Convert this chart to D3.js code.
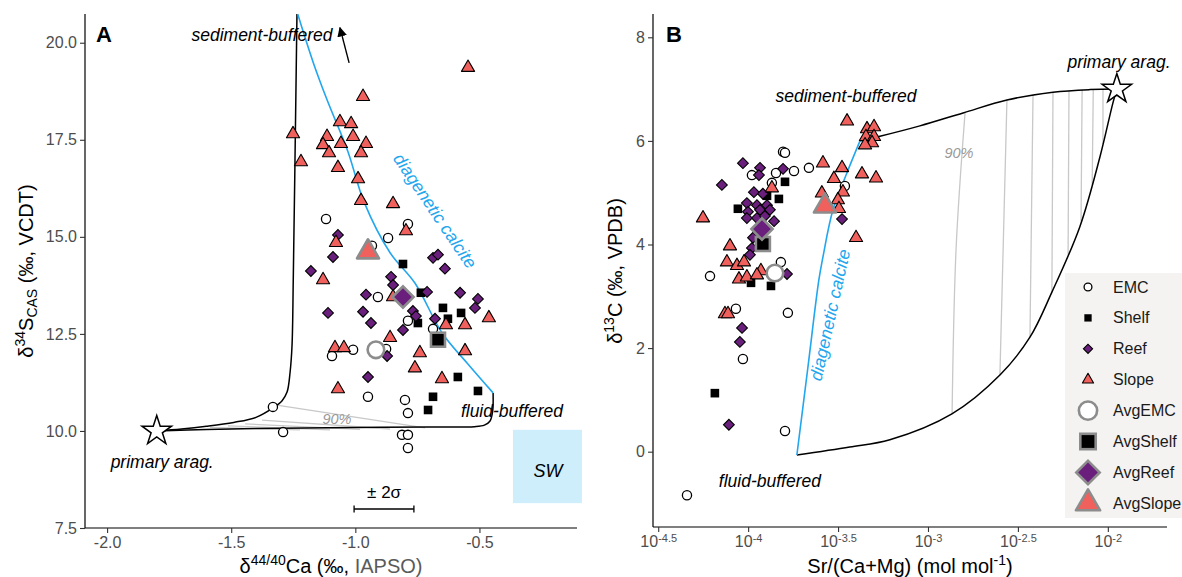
<!DOCTYPE html>
<html><head><meta charset="utf-8">
<script src="https://cdn.jsdelivr.net/npm/d3@7"></script>
<style>
body{margin:0;background:#fff;}
svg{display:block;font-family:"Liberation Sans",Arial,Helvetica,sans-serif;}
</style></head><body>
<svg id="chart" width="1182" height="577"></svg>
<script>
// ===== Panel A data: [δ44/40Ca (‰, IAPSO), δ34S_CAS (‰, VCDT)]
const aEMC = [[-1.332,10.62],[-1.291,9.97],[-1.118,15.46],[-0.788,15.33],[-0.868,14.97],[-0.933,14.77],[-0.909,13.45],[-0.788,12.84],[-0.687,12.63],[-1.094,11.93],[-1.009,12.09],[-0.876,12.11],[-0.949,10.88],[-0.800,10.80],[-0.788,10.46],[-0.812,9.90],[-0.788,9.90],[-0.788,9.56]];
const aShelf = [[-0.808,14.30],[-0.736,13.56],[-0.647,13.17],[-0.627,12.89],[-0.574,13.04],[-0.748,12.78],[-0.587,11.39],[-0.506,11.03],[-0.687,10.88],[-0.707,10.54]];
const aReef = [[-1.070,15.05],[-1.090,14.48],[-1.179,14.12],[-0.687,14.46],[-0.667,14.54],[-0.639,14.18],[-0.856,13.97],[-0.848,13.76],[-0.957,13.51],[-0.711,13.58],[-0.578,13.56],[-0.506,13.40],[-0.518,13.17],[-1.110,13.04],[-0.969,13.07],[-0.937,12.78],[-0.768,13.09],[-0.756,12.96],[-0.808,12.60],[-0.679,12.89],[-0.872,11.93],[-0.949,11.39]];
const aSlope = [[-1.251,17.65],[-1.219,16.93],[-0.546,19.36],[-0.969,18.61],[-1.062,17.96],[-1.017,17.91],[-1.114,17.58],[-1.009,17.58],[-1.130,17.37],[-1.058,17.40],[-0.957,17.40],[-1.106,17.16],[-0.977,17.16],[-1.070,16.78],[-0.989,16.49],[-0.977,15.93],[-0.848,15.85],[-0.796,15.15],[-1.078,14.85],[-1.130,13.89],[-0.848,13.45],[-1.082,12.14],[-1.046,12.14],[-0.860,12.40],[-0.740,12.01],[-0.760,11.62],[-0.635,12.73],[-0.558,12.73],[-0.462,12.91],[-0.558,12.06],[-0.651,11.34],[-1.070,11.08]];
const aAvgEMC = [[-0.917,12.09]];
const aAvgShelf = [[-0.667,12.35]];
const aAvgReef = [[-0.808,13.45]];
const aAvgSlope = [[-0.949,14.61]];
// model curves, panel A
const aPrimary = [[-1.80,10.0]];
const aSedCurve = [[-1.80,10.0],[-1.70,10.05],[-1.60,10.12],[-1.49,10.22],[-1.40,10.35],[-1.33,10.60],[-1.295,10.78],[-1.275,11.0],[-1.263,11.5],[-1.255,12.2],[-1.250,13.9],[-1.243,17.0],[-1.235,20.8]];
const aFluidCurve = [[-1.80,10.0],[-1.6,10.04],[-1.3,10.07],[-1.0,10.09],[-0.7,10.10],[-0.52,10.11],[-0.48,10.15],[-0.458,10.25],[-0.447,10.5],[-0.445,10.98]];
const aCalcite = [[-1.235,20.8],[-1.17,19.5],[-1.114,18.53],[-1.03,17.2],[-0.965,15.9],[-0.86,14.59],[-0.76,13.81],[-0.651,12.53],[-0.55,11.75],[-0.445,10.98]];
const aIsoLines = [[[-1.323,10.67],[-0.719,10.08]],[[-1.376,10.28],[-0.860,10.05]],[[-1.444,10.18],[-0.981,10.04]],[[-1.513,10.13],[-1.102,10.03]],[[-1.585,10.09],[-1.223,10.03]]];
const aSW = [[-0.365,8.14],[-0.087,10.03]];
const aErr = [-1.005,-0.764,7.99];
const aXTicks = [-2.0,-1.5,-1.0,-0.5];
const aYTicks = [7.5,10.0,12.5,15.0,17.5,20.0];

// ===== Panel B data: [log10 Sr/(Ca+Mg) (mol/mol), δ13C (‰, VPDB)]
const bEMC = [[-3.806,5.79],[-3.795,5.77],[-3.979,5.34],[-3.845,5.38],[-3.745,5.42],[-3.662,5.48],[-3.868,5.19],[-3.462,5.13],[-3.818,3.66],[-4.212,3.39],[-4.068,2.76],[-3.779,2.68],[-4.029,1.79],[-3.795,0.40],[-4.340,-0.84]];
const bShelf = [[-3.795,5.21],[-3.895,4.94],[-3.829,4.88],[-4.057,4.69],[-3.984,3.26],[-3.873,3.20],[-4.185,1.13]];
const bReef = [[-4.029,5.57],[-3.934,5.48],[-3.806,5.46],[-3.940,5.34],[-4.146,5.15],[-3.968,5.01],[-3.918,4.98],[-4.007,4.80],[-3.951,4.76],[-3.895,4.76],[-4.001,4.63],[-3.934,4.67],[-3.879,4.67],[-4.007,4.51],[-3.951,4.51],[-3.907,4.55],[-3.856,4.45],[-3.973,4.13],[-3.979,3.93],[-3.990,3.80],[-3.784,3.43],[-3.478,4.49],[-4.034,2.39],[-4.046,2.12],[-4.107,0.52]];
const bSlope = [[-3.450,6.38],[-3.339,6.23],[-3.300,6.27],[-3.345,6.08],[-3.300,6.08],[-3.311,5.96],[-3.350,5.92],[-3.584,5.57],[-3.478,5.48],[-3.523,5.27],[-3.367,5.36],[-3.289,5.28],[-3.868,5.09],[-3.473,5.01],[-3.590,4.99],[-3.501,4.86],[-3.495,4.69],[-3.400,4.13],[-4.251,4.51],[-4.101,3.97],[-4.118,3.66],[-4.062,3.59],[-4.023,3.66],[-3.929,3.49],[-4.051,3.33],[-4.007,3.37],[-3.951,3.41],[-4.129,2.66],[-4.112,2.66]];
const bAvgEMC = [[-3.851,3.45]];
const bAvgShelf = [[-3.918,4.01]];
const bAvgReef = [[-3.923,4.30]];
const bAvgSlope = [[-3.573,4.74]];
// model curves, panel B
const bPrimary = [[-1.95,7.0]];
const bSedCurve = [[-3.378,6.00],[-3.267,6.09],[-3.045,6.29],[-2.805,6.54],[-2.561,6.79],[-2.305,6.94],[-2.10,6.99],[-1.95,7.0]];
const bFluidCurve = [[-3.729,-0.064],[-3.435,0.09],[-3.212,0.23],[-2.867,0.73],[-2.600,1.48],[-2.433,2.21],[-2.311,3.08],[-2.156,4.34],[-2.044,5.69],[-1.972,6.73],[-1.95,7.0]];
const bCalcite = [[-3.729,-0.064],[-3.668,1.62],[-3.607,3.31],[-3.584,3.76],[-3.529,4.66],[-3.451,5.38],[-3.378,6.00]];
const bIsoLines = [[[-2.794,6.54],[-2.844,3.90],[-2.866,0.73]],[[-2.561,6.79],[-2.600,1.48]],[[-2.416,6.89],[-2.433,2.21]],[[-2.305,6.94],[-2.311,3.08]],[[-2.216,6.98],[-2.221,3.80]],[[-2.143,6.99],[-2.149,4.45]],[[-2.081,7.0],[-2.087,5.15]],[[-2.027,7.0],[-2.027,5.94]]];
const bXTickExp = [-4.5,-4,-3.5,-3,-2.5,-2];
const bYTicks = [0,2,4,6,8];

const groups = ["EMC","Shelf","Reef","Slope","AvgEMC","AvgShelf","AvgReef","AvgSlope"];

// ===== styling
const C = {reef:"#6a1f7d", slope:"#f0605d", avg:"#8c8c8c", blue:"#22a6ee", iso:"#c8c8c8", tick:"#4d4d4d"};
const svg = d3.select("#chart");

const ax = d3.scaleLinear().domain([-2.089,-0.107]).range([85,577]);
const ay = d3.scaleLinear().domain([7.5,20.74]).range([528,14]);
const bx = d3.scaleLog().domain([Math.pow(10,-4.529),Math.pow(10,-1.671)]).range([653,1167]);
const by = d3.scaleLinear().domain([-1.454,8.45]).range([527,14]);
const bX = v => bx(Math.pow(10,v));

const defs = svg.append("defs");
defs.append("clipPath").attr("id","clipA").append("rect").attr("x",85).attr("y",14).attr("width",500).attr("height",514);
defs.append("clipPath").attr("id","clipB").append("rect").attr("x",653).attr("y",14).attr("width",514).attr("height",513);
defs.append("marker").attr("id","arr").attr("viewBox","0 0 10 10").attr("refX",9).attr("refY",5)
  .attr("markerWidth",7).attr("markerHeight",7).attr("orient","auto")
  .append("path").attr("d","M0,0L10,5L0,10z").attr("fill","#000");

function mark(g, type, x, y, k) {
  k = k || 1;
  const big = type.startsWith("Avg");
  const t = big ? type.slice(3) : type;
  const stroke = big ? C.avg : "#000";
  const sw = big ? 2.6 : 1.1;
  if (t === "EMC") {
    g.append("circle").attr("cx",x).attr("cy",y).attr("r",(big?8.3:4.6)*k)
      .attr("fill","#fff").attr("stroke",stroke).attr("stroke-width",big?2.6:1.3);
  } else if (t === "Shelf") {
    const s = (big?14:8.6)*k;
    g.append("rect").attr("x",x-s/2).attr("y",y-s/2).attr("width",s).attr("height",s)
      .attr("fill","#000").attr("stroke",big?stroke:"none").attr("stroke-width",sw);
  } else if (t === "Reef") {
    const s = (big?15:7.6)*k;
    g.append("rect").attr("x",x-s/2).attr("y",y-s/2).attr("width",s).attr("height",s)
      .attr("transform",`rotate(45,${x},${y})`)
      .attr("fill",C.reef).attr("stroke",stroke).attr("stroke-width",sw);
  } else {
    g.append("path").attr("d",d3.symbol(d3.symbolTriangle,(big?210:75)*k*k)())
      .attr("transform",`translate(${x},${y})`)
      .attr("fill",C.slope).attr("stroke",stroke).attr("stroke-width",sw).attr("stroke-linejoin","round");
  }
}

function panel(opts) {
  const {X, Y, clip, sed, fluid, calcite, iso, primary, pts, xAxisY, yAxisX, xr, yr} = opts;
  const gl = svg.append("g").attr("clip-path",`url(#${clip})`);
  const smooth = d3.line().x(d=>X(d[0])).y(d=>Y(d[1])).curve(d3.curveCatmullRom.alpha(0.5));
  iso.forEach(l => gl.append("path").attr("d",smooth(l)).attr("fill","none").attr("stroke",C.iso).attr("stroke-width",1.3));
  gl.append("path").attr("d",smooth(sed)).attr("fill","none").attr("stroke","#000").attr("stroke-width",1.5);
  gl.append("path").attr("d",smooth(fluid)).attr("fill","none").attr("stroke","#000").attr("stroke-width",1.5);
  gl.append("path").attr("d",smooth(calcite)).attr("fill","none").attr("stroke",C.blue).attr("stroke-width",1.6);
  primary.forEach(p => svg.append("path").attr("d",d3.symbol(d3.symbolStar,270)())
    .attr("transform",`translate(${X(p[0])},${Y(p[1])})`).attr("fill","#fff").attr("stroke","#000").attr("stroke-width",1.5));
  const gp = svg.append("g");
  pts.forEach(([type, arr]) => arr.forEach(d => mark(gp, type, X(d[0]), Y(d[1]))));
  const gx = svg.append("g").attr("transform",`translate(0,${xAxisY})`);
  gx.append("line").attr("x1",xr[0]).attr("x2",xr[1]).attr("stroke","#000").attr("stroke-width",1.2);
  const gy = svg.append("g").attr("transform",`translate(${yAxisX},0)`);
  gy.append("line").attr("y1",yr[0]).attr("y2",yr[1]).attr("stroke","#000").attr("stroke-width",1.2);
  return {gx, gy};
}

// ===== Panel A
const A = panel({X:ax, Y:ay, clip:"clipA", sed:aSedCurve, fluid:aFluidCurve, calcite:aCalcite, iso:aIsoLines, primary:aPrimary,
  pts:[["EMC",aEMC],["Shelf",aShelf],["Reef",aReef],["Slope",aSlope],["AvgEMC",aAvgEMC],["AvgShelf",aAvgShelf],["AvgReef",aAvgReef],["AvgSlope",aAvgSlope]],
  xAxisY:528, yAxisX:85, xr:[85,577], yr:[14,528]});
const fmt1 = d => d.toFixed(1);
const axA = d3.axisBottom(ax).tickValues(aXTicks).tickFormat(fmt1).tickSize(5).tickPadding(4);
A.gx.call(axA).call(g=>{g.select(".domain").remove();});
const ayA = d3.axisLeft(ay).tickValues(aYTicks).tickFormat(fmt1).tickSize(5).tickPadding(3);
A.gy.call(ayA).call(g=>{g.select(".domain").remove();});

svg.append("rect").attr("x",ax(aSW[0][0])).attr("y",ay(aSW[1][1])).attr("width",ax(aSW[1][0])-ax(aSW[0][0]))
  .attr("height",ay(aSW[0][1])-ay(aSW[1][1])).attr("fill","#cfeefb");
const ge = svg.append("g").attr("stroke","#000").attr("stroke-width",1.3);
ge.append("line").attr("x1",ax(aErr[0])).attr("x2",ax(aErr[1])).attr("y1",ay(aErr[2])).attr("y2",ay(aErr[2]));
[aErr[0],aErr[1]].forEach(v=>ge.append("line").attr("x1",ax(v)).attr("x2",ax(v)).attr("y1",ay(aErr[2])-3.5).attr("y2",ay(aErr[2])+3.5));
svg.append("line").attr("x1",ax(-1.025)).attr("y1",ay(19.48)).attr("x2",ax(-1.062)).attr("y2",ay(20.39))
  .attr("stroke","#000").attr("stroke-width",1.4).attr("marker-end","url(#arr)");

function note(txt, x, y, o) {
  o = o || {};
  const t = svg.append("text").attr("x",x).attr("y",y).attr("text-anchor","middle")
    .attr("font-size",o.size||17.5).attr("font-style",o.italic===false?"normal":"italic")
    .attr("fill",o.fill||"#000").text(txt);
  if (o.rot !== undefined) t.attr("transform",`rotate(${o.rot},${x},${y})`).attr("dominant-baseline","central");
  return t;
}
note("sediment-buffered", ax(-1.376), ay(20.05));
note("fluid-buffered", ax(-0.369), ay(10.36));
note("primary arag.", ax(-1.778), ay(9.05));
note("diagenetic calcite", ax(-0.679), ay(15.67), {fill:C.blue, rot:56});
note("SW", ax(-0.224), ay(8.81), {size:18});
note("± 2σ", ax(-0.884), ay(8.27), {italic:false, size:17});
note("90%", ax(-1.074), ay(10.18), {fill:"#999", size:14.5});

// ===== Panel B
const B = panel({X:bX, Y:by, clip:"clipB", sed:bSedCurve, fluid:bFluidCurve, calcite:bCalcite, iso:bIsoLines, primary:bPrimary,
  pts:[["EMC",bEMC],["Shelf",bShelf],["Reef",bReef],["Slope",bSlope],["AvgEMC",bAvgEMC],["AvgShelf",bAvgShelf],["AvgReef",bAvgReef],["AvgSlope",bAvgSlope]],
  xAxisY:527, yAxisX:653, xr:[653,1167], yr:[14,527]});
const axB = d3.axisBottom(bx).tickValues(bXTickExp.map(e=>Math.pow(10,e))).tickFormat(()=>"").tickSize(5).tickPadding(4);
B.gx.call(axB).call(g=>{g.select(".domain").remove();});
const ayB = d3.axisLeft(by).tickValues(bYTicks).tickFormat(d3.format("d")).tickSize(5).tickPadding(3);
B.gy.call(ayB).call(g=>{g.select(".domain").remove();});

note("sediment-buffered", bX(-3.456), by(6.75));
note("primary arag.", bX(-1.938), by(7.41));
note("fluid-buffered", bX(-3.879), by(-0.68));
note("diagenetic calcite", bX(-3.545), by(2.64), {fill:C.blue, rot:-77.5});
note("90%", bX(-2.828), by(5.67), {fill:"#999", size:14.5});

// axis styling
svg.selectAll(".tick line").attr("stroke","#333").attr("stroke-width",1.1);
svg.selectAll(".tick text").attr("fill",C.tick).attr("font-size","16px")
  .attr("font-family","'Liberation Sans',Arial,sans-serif");
B.gx.selectAll(".tick text").each(function(d,i){
  const t = d3.select(this);
  t.append("tspan").text("10");
  t.append("tspan").attr("dy","-0.45em").attr("font-size","11px").text(String(bXTickExp[i]));
});

// panel letters
svg.append("text").attr("x",96).attr("y",42).attr("font-size",22).attr("font-weight","bold").text("A");
svg.append("text").attr("x",666).attr("y",42).attr("font-size",22).attr("font-weight","bold").text("B");

// axis titles
const tA = svg.append("text").attr("transform","translate(33,271) rotate(-90)").attr("text-anchor","middle").attr("font-size",20);
tA.append("tspan").text("δ");
tA.append("tspan").attr("font-size",14).attr("dy",-8).text("34");
tA.append("tspan").attr("dy",8).text("S");
tA.append("tspan").attr("font-size",14).attr("dy",4).text("CAS");
tA.append("tspan").attr("dy",-4).text(" (‰, VCDT)");

const xA = svg.append("text").attr("x",331).attr("y",573).attr("text-anchor","middle").attr("font-size",20);
xA.append("tspan").text("δ");
xA.append("tspan").attr("font-size",14).attr("dy",-8).text("44/40");
xA.append("tspan").attr("dy",8).text("Ca (‰, ");
xA.append("tspan").attr("fill","#5a5a5a").text("IAPSO)");

const tB = svg.append("text").attr("transform","translate(622,271) rotate(-90)").attr("text-anchor","middle").attr("font-size",20);
tB.append("tspan").text("δ");
tB.append("tspan").attr("font-size",14).attr("dy",-8).text("13");
tB.append("tspan").attr("dy",8).text("C (‰, VPDB)");

const xB = svg.append("text").attr("x",910).attr("y",573).attr("text-anchor","middle").attr("font-size",20);
xB.append("tspan").text("Sr/(Ca+Mg) (mol mol");
xB.append("tspan").attr("font-size",14).attr("dy",-8).text("-1");
xB.append("tspan").attr("dy",8).text(")");

// legend
const lg = svg.append("g");
lg.append("rect").attr("x",1065).attr("y",273).attr("width",117).attr("height",245).attr("fill","#f4f3f1");
groups.forEach((gname,i)=>{
  const cy = 287 + i*30.9;
  const big = gname.startsWith("Avg");
  mark(lg, gname, 1088, cy, big?1.1:0.85);
  lg.append("text").attr("x",1113).attr("y",cy+5.5).attr("font-size",16).attr("fill","#1a1a1a").text(gname);
});
</script>
</body></html>
